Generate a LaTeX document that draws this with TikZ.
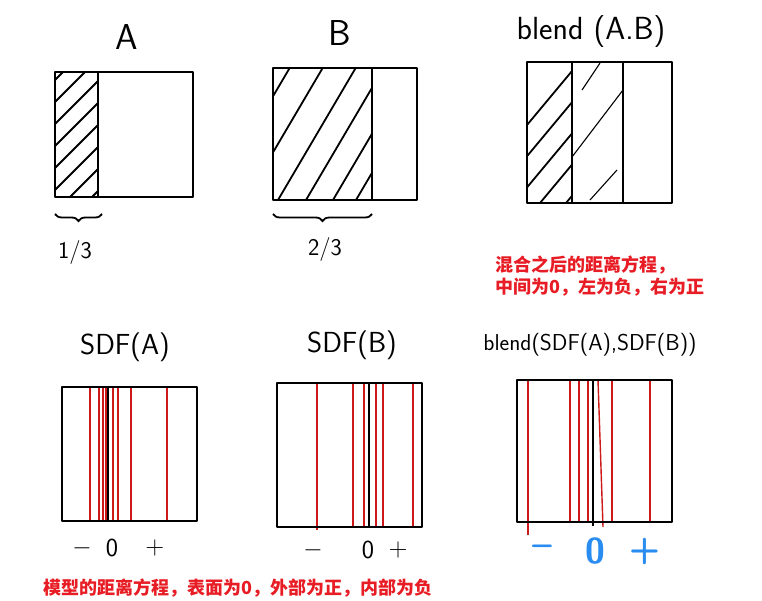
\documentclass[tikz,border=0pt]{standalone}
\usepackage{fontspec}
\newfontfamily\cjk{Noto Sans CJK SC}
\usetikzlibrary{decorations.pathreplacing, positioning}
\definecolor{nred}{RGB}{232,28,36}
\definecolor{lred}{RGB}{205,25,25}
\definecolor{nblue}{RGB}{40,140,240}
\tikzset{
  bx/.style = {draw=black, line width=2.5pt, line join=round},
  ht/.style = {draw=black, line width=1.8pt},
  zl/.style = {draw=black, line width=2.2pt},
  rl/.style = {draw=lred, line width=1.4pt},
  tit/.style = {font=\sffamily\fontsize{36}{38}\selectfont, inner sep=0pt},
  stit/.style = {font=\sffamily\fontsize{29}{30}\selectfont, inner sep=0pt},
  frac/.style = {font=\sffamily\fontsize{24}{24}\selectfont, inner sep=0pt},
  sg/.style = {font=\sffamily\fontsize{26}{26}\selectfont, inner sep=0pt},
  bsg/.style = {font=\sffamily\bfseries\fontsize{36}{36}\selectfont, text=nblue,
    inner sep=0pt},
  nota/.style = {font=\cjk\bfseries\fontsize{18}{22}\selectfont, text=nred,
    align=left, inner sep=0pt},
  br/.style = {decorate, decoration={brace, mirror, amplitude=7pt},
    line width=1.8pt}
}

\begin{document}
\begin{tikzpicture}[x=1pt, y=-1pt]
  \useasboundingbox (0,0) rectangle (762,601);
  \fill [white] (0,0) rectangle (762,601);
  % shapes A, B and their blend
  \node [tit] (ta) at (127,37) {A};
  \begin{scope}
    \clip (55,72) rectangle (98,197);
    \foreach \c in {-62,-40,...,100} \draw [ht] (\c,197) -- ++(150,-150);
  \end{scope}
  \draw [bx] (55,72) rectangle (193,197);
  \draw [bx] (98,72) -- (98,197);
  \draw [br] (55,214) -- (102,214);
  \node [frac] (fa) at (75,253) {1/3};

  \node [tit] (tb) at (340,33) {B};
  \begin{scope}
    \clip (273,68) rectangle (372,200);
    \foreach \c in {212,245,278,306,333,356} \draw [ht] (\c,200) -- ++(100,-170);
  \end{scope}
  \draw [bx] (273,68) rectangle (417,200);
  \draw [bx] (372,68) -- (372,200);
  \draw [br] (273,214) -- (372,214);
  \node [frac] (fb) at (325,250) {2/3};

  \node [tit, font=\sffamily\fontsize{32}{34}\selectfont] (tab) at (591,32) {blend (A.B)};
  \begin{scope}
    \clip (527,62) rectangle (572,203);
    \foreach \c in {462,488,514,540,566} \draw [ht] (\c,203) -- ++(120,-144);
  \end{scope}
  \draw [ht, line width=1.1pt] (582,90) -- (600,63);
  \draw [ht, line width=1.1pt] (572,157) -- (623,90);
  \draw [ht, line width=1.1pt] (590,200) -- (617,170);
  \draw [bx] (527,62) rectangle (672,203);
  \draw [bx] (572,62) -- (572,203);
  \draw [bx] (623,62) -- (623,203);
  \node [nota, anchor=west] (nb) at (495,276)
    {混合之后的距离方程，\\中间为0，左为负，右为正};

  % distance fields
  \node [stit] (sa) at (125,347) {SDF(A)};
  \foreach \x in {90,99,103,106,113,118,131,167} \draw [rl] (\x,387) -- (\x,521);
  \draw [zl] (108,387) -- (108,521);
  \draw [bx] (62,387) rectangle (197,521);
  \node [sg] (ma) at (82,548) {$-$};
  \node [sg] (za) at (112,548) {0};
  \node [sg] (pa) at (155,548) {+};

  \node [stit] (sb) at (352,345) {SDF(B)};
  \foreach \x in {353,364,376,383,413} \draw [rl] (\x,383) -- (\x,527);
  \draw [rl] (317,383) -- (317,530);
  \draw [zl] (369,383) -- (369,527);
  \draw [bx] (277,383) rectangle (422,527);
  \node [sg] (mb) at (313,550) {$-$};
  \node [sg] (zb) at (368,550) {0};
  \node [sg] (pb) at (398,550) {+};

  \node [stit, font=\sffamily\fontsize{23}{24}\selectfont] (sab) at (590,345) {blend(SDF(A),SDF(B))};
  \foreach \x in {570,579,588,612,650} \draw [rl] (\x,380) -- (\x,522);
  \draw [rl] (528,380) -- (528,535);
  \draw [rl] (598,380) -- (603,527);
  \draw [zl] (593,380) -- (593,526);
  \draw [bx] (517,380) rectangle (672,522);
  \node [bsg] (mab) at (542,551) {--};
  \node [bsg] (zab) at (595,551) {0};
  \node [bsg] (pab) at (645,551) {+};

  \node [nota, anchor=west] (nsdf) at (43,588) {模型的距离方程，表面为0，外部为正，内部为负};
\end{tikzpicture}
\end{document}
